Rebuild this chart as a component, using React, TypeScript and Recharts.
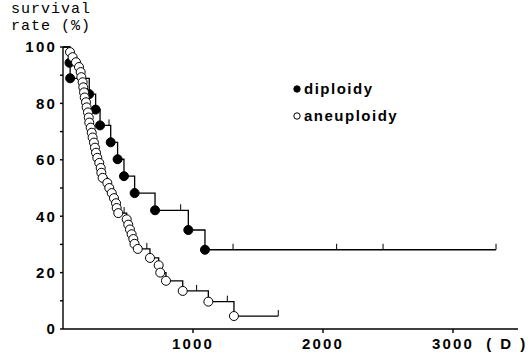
import React from 'react';
import { ComposedChart, Line, XAxis, YAxis } from 'recharts';

// diploidy: days of death, survival rate after each death, censored cases
const diploidyEventDays = [50, 55, 202, 251, 285, 367, 420, 469, 551, 708, 964, 1092];
const diploidyEventRates = [94.4, 88.9, 83.3, 77.8, 72.2, 66.2, 60.2, 54.2, 48.2, 42.1, 35.1, 28.1];
const diploidyCensorDays = [354, 905, 1308, 2105, 2462, 3331];

// aneuploidy
const aneuploidyEventDays = [
  54, 74, 100, 123, 136, 141, 151, 156, 162, 167,
  177, 182, 192, 198, 202, 213, 221, 228, 238, 246,
  254, 264, 279, 290, 295, 305, 341, 356, 375, 392,
  408, 413, 425, 490, 502, 515, 528, 541, 550, 575,
  669, 736, 748, 792, 921, 1118, 1315,
];
const aneuploidyEventRates = [
  98.2, 96.4, 94.6, 92.9, 91.1, 89.3, 87.5, 85.7, 83.9, 82.1,
  80.4, 78.6, 76.8, 75.0, 73.2, 71.4, 69.6, 67.9, 66.1, 64.3,
  62.5, 60.7, 58.9, 57.1, 55.4, 53.6, 51.8, 50.0, 48.2, 46.4,
  44.6, 42.9, 41.1, 38.9, 37.0, 35.3, 33.6, 31.9, 30.2, 28.4,
  25.2, 22.6, 20.0, 17.1, 13.5, 9.7, 4.6,
];
const aneuploidyCensorDays = [470, 645, 1028, 1264, 1656];

const xTicks = [1000, 2000, 3000];
const yTicks = [0, 10, 20, 30, 40, 50, 60, 70, 80, 90, 100];

type Pt = { day: number; rate: number; mark: 'none' | 'event' | 'censor' };

const buildCurve = (days: number[], rates: number[], censor: number[]): Pt[] => {
  const items = [
    ...days.map((d, i) => ({ day: d, rate: rates[i], mark: 'event' as const })),
    ...censor.map((d) => ({ day: d, rate: NaN, mark: 'censor' as const })),
  ].sort((a, b) => a.day - b.day);
  const out: Pt[] = [{ day: 0, rate: 100, mark: 'none' }];
  let cur = 100;
  items.forEach((it) => {
    if (it.mark === 'event') cur = it.rate;
    out.push({ day: it.day, rate: cur, mark: it.mark });
  });
  return out;
};

const diploidy = buildCurve(diploidyEventDays, diploidyEventRates, diploidyCensorDays);
const aneuploidy = buildCurve(aneuploidyEventDays, aneuploidyEventRates, aneuploidyCensorDays);

const tickFont = {
  fontFamily: '"Liberation Sans", Arial, sans-serif',
  fontSize: 15,
  fontWeight: 700,
  letterSpacing: 2.2,
  fill: '#000',
};

const makeDot = (filled: boolean) => (props: any) => {
  const { cx, cy, payload, index } = props;
  if (payload.mark === 'event') {
    return (
      <circle key={index} cx={cx} cy={cy} r={4.5}
        fill={filled ? '#000' : '#fff'} stroke="#000" strokeWidth={1} />
    );
  }
  if (payload.mark === 'censor') {
    return <line key={index} x1={cx} x2={cx} y1={cy - 6} y2={cy} stroke="#000" strokeWidth={1} />;
  }
  return <g key={index} />;
};

const XTick = (props: any) => {
  const { x, y, payload } = props;
  return (
    <g>
      <text x={x} y={y} dy="0.71em" textAnchor="middle" {...tickFont}>{payload.value}</text>
      {payload.value === 3000 && (
        <text x={x + 54} y={y} dy="0.71em" textAnchor="middle" {...tickFont} letterSpacing={2.5}>( D )</text>
      )}
    </g>
  );
};

const Legend = () => (
  <div style={{
    position: 'absolute', left: 292, top: 75,
    fontFamily: '"Liberation Sans", Arial, sans-serif', fontSize: 15, fontWeight: 600,
    letterSpacing: 1.5, lineHeight: '27px', color: '#000',
  }}>
    <div style={{ display: 'flex', alignItems: 'center' }}>
      <svg width={12} height={10}><circle cx={5} cy={5} r={3.2} fill="#000" stroke="#000" /></svg>
      <span>diploidy</span>
    </div>
    <div style={{ display: 'flex', alignItems: 'center' }}>
      <svg width={12} height={10}><circle cx={5} cy={5} r={3.2} fill="#fff" stroke="#000" /></svg>
      <span>aneuploidy</span>
    </div>
  </div>
);

export default function App() {
  return (
    <div style={{ position: 'absolute', left: 0, top: 0, width: 530, height: 357, background: '#fff' }}>
      <div style={{
        position: 'absolute', left: 11, top: 1,
        fontFamily: '"Liberation Mono", "Courier New", monospace', fontSize: 15,
        letterSpacing: 1, lineHeight: '17px', color: '#000',
      }}>
        <div>survival</div>
        <div>rate (%)</div>
      </div>
      <ComposedChart width={530} height={357} margin={{ top: 47, right: 12, bottom: 0, left: 0 }}>
        <XAxis
          type="number"
          dataKey="day"
          domain={[0, 3500]}
          ticks={xTicks}
          allowDataOverflow
          height={28}
          stroke="#000"
          strokeWidth={1.4}
          tickSize={4}
          tickMargin={5}
          tick={<XTick />}
        />
        <YAxis
          type="number"
          dataKey="rate"
          domain={[0, 100]}
          ticks={yTicks}
          width={63}
          stroke="#000"
          strokeWidth={1.4}
          tickSize={3}
          tickMargin={3}
          tick={tickFont}
          tickFormatter={(v: number) => (v % 20 === 0 ? String(v) : '')}
        />
        <Line
          data={diploidy}
          dataKey="rate"
          type="stepAfter"
          stroke="#000"
          strokeWidth={1.3}
          dot={makeDot(true)}
          activeDot={false}
          isAnimationActive={false}
        />
        <Line
          data={aneuploidy}
          dataKey="rate"
          type="stepAfter"
          stroke="#000"
          strokeWidth={1.3}
          dot={makeDot(false)}
          activeDot={false}
          isAnimationActive={false}
        />
      </ComposedChart>
      <Legend />
    </div>
  );
}
